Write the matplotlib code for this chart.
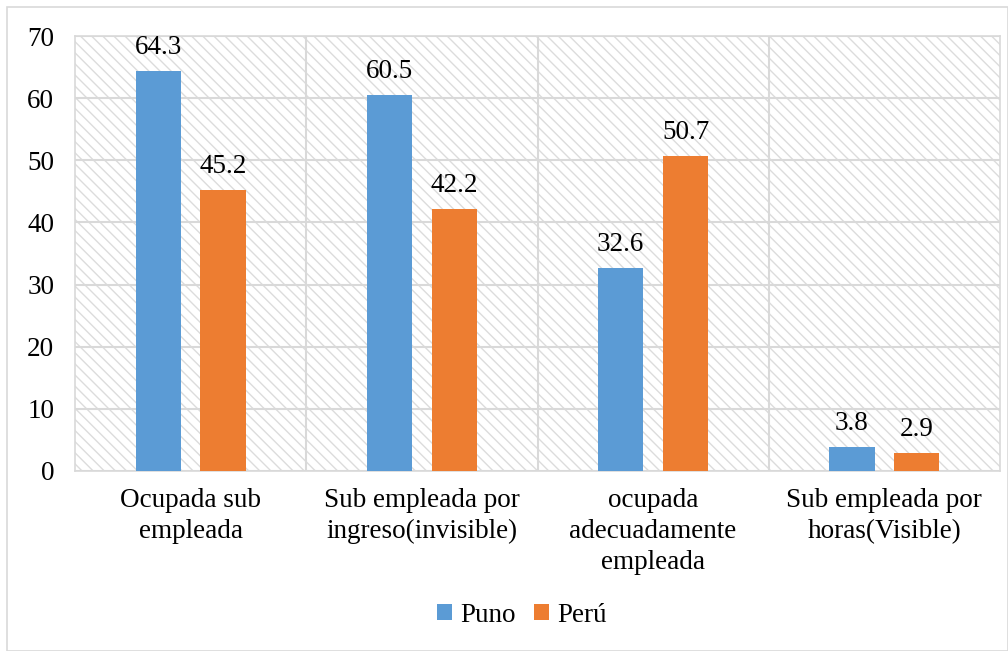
import matplotlib
matplotlib.use("Agg")
import matplotlib.pyplot as plt
import numpy as np
from matplotlib.patches import Rectangle

categories = ["Ocupada sub\nempleada", "Sub empleada por\ningreso(invisible)",
              "ocupada\nadecuadamente\nempleada", "Sub empleada por\nhoras(Visible)"]
puno = [64.3, 60.5, 32.6, 3.8]
peru = [45.2, 42.2, 50.7, 2.9]
series_names = ["Puno", "Perú"]
yticks = [0, 10, 20, 30, 40, 50, 60, 70]

plt.rcParams['font.family'] = ['Liberation Serif', 'DejaVu Serif']
plt.rcParams['hatch.color'] = '#dcdcdc'
plt.rcParams['hatch.linewidth'] = 1.0

FS = 19.5

fig = plt.figure(figsize=(10.08, 6.51), dpi=100)
ax = fig.add_axes([75/1008, 1-471/651, 925/1008, 435/651])

# outer border
fig.patches.append(Rectangle((7/1008, 0), 1-7/1008, 1-7/651, transform=fig.transFigure,
                             fill=False, edgecolor='#d9d9d9', linewidth=1.2))

# hatched background
ax.add_patch(Rectangle((0, 0), 1, 1, transform=ax.transAxes, facecolor='white',
                       edgecolor='#dcdcdc', hatch='\\\\\\', linewidth=0, zorder=0))

x = np.arange(len(categories))
w = 0.195
off = 0.14
b1 = ax.bar(x - off, puno, w, color='#5B9BD5', zorder=3, label=series_names[0])
b2 = ax.bar(x + off, peru, w, color='#ED7D31', zorder=3, label=series_names[1])

for bars, vals in ((b1, puno), (b2, peru)):
    for r, v in zip(bars, vals):
        ax.annotate(f"{v:.1f}", (r.get_x() + r.get_width()/2, v), xytext=(0, 8),
                    textcoords='offset points', ha='center', va='bottom', fontsize=FS)

ax.set_xlim(-0.5, 3.5)
ax.set_ylim(0, 70)
ax.set_yticks(yticks)
ax.set_yticklabels([str(t) for t in yticks], fontsize=FS)
ax.set_xticks(x)
ax.set_xticklabels(categories, fontsize=FS, linespacing=1.32)
ax.tick_params(axis='both', length=0)
ax.tick_params(axis='y', pad=15)
ax.tick_params(axis='x', pad=12)

ax.yaxis.grid(True, color='#d9d9d9', linewidth=1.5, zorder=1)
ax.set_axisbelow(True)
for b in [0.5, 1.5, 2.5]:
    ax.axvline(b, color='#d9d9d9', linewidth=1.5, zorder=1)
for s in ax.spines.values():
    s.set_color('#d9d9d9')
    s.set_linewidth(1.2)

fig.legend(handles=[b1, b2], loc='center', bbox_to_anchor=(522/1008, 1-615/651), ncol=2,
           frameon=False, fontsize=FS, handlelength=0.55, handleheight=0.55,
           handletextpad=0.3, columnspacing=0.7)

fig.savefig("out.png", dpi=100)
